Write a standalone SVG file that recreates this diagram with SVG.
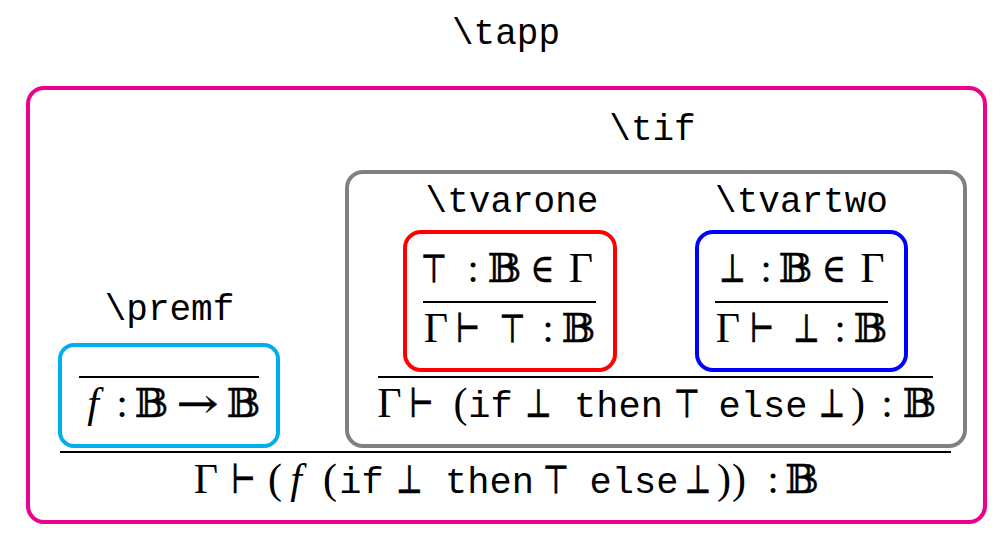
<svg xmlns="http://www.w3.org/2000/svg" width="1006" height="548" viewBox="0 0 1006 548">
<style>
.box{fill:none;stroke-width:4}
.lbl{font-family:"Liberation Mono","DejaVu Sans Mono",monospace;font-size:36px;fill:#000;text-anchor:middle}
.m{font-family:"Liberation Serif","DejaVu Serif","DejaVu Sans",serif;font-size:42px;fill:#000;text-anchor:middle}
.s{font-family:"DejaVu Serif","DejaVu Sans",serif;font-size:40px;fill:#000;stroke:#000;stroke-width:0.5;text-anchor:middle}
.mi{font-family:"Liberation Serif","DejaVu Serif",serif;font-style:italic;font-size:42px;fill:#000;text-anchor:middle}
.tt{font-family:"Liberation Mono","DejaVu Sans Mono",monospace;font-size:37px;fill:#000;text-anchor:middle}
.rule{stroke:#000;stroke-width:2.2}
</style>
<rect width="1006" height="548" fill="#fff"/>

<g id="tapp">
  <rect class="box" x="28" y="88" width="957" height="434" rx="16" stroke="#EC008C" stroke-width="4.5"/>
  <text class="lbl" x="506" y="44">\tapp</text>
  <g class="concl">
    <text class="m" x="206" y="493">Γ</text>
    <text class="s" x="243.5" y="493" textLength="25" lengthAdjust="spacingAndGlyphs">⊢</text>
    <text class="m" x="275" y="493">(</text>
    <text class="mi" x="296" y="493">f</text>
    <text class="m" x="330" y="493">(</text>
    <text class="tt" x="361.5" y="493">if</text>
    <text class="s" x="409.5" y="493" textLength="27" lengthAdjust="spacingAndGlyphs">⊥</text>
    <text class="tt" x="489.5" y="493">then</text>
    <text class="s" x="556" y="493" textLength="27" lengthAdjust="spacingAndGlyphs">⊤</text>
    <text class="tt" x="634" y="493">else</text>
    <text class="s" transform="translate(698,493) scale(0.72,1)" x="0" y="0">⊥</text>
    <text class="m" x="724" y="493">)</text>
    <text class="m" x="739" y="493">)</text>
    <text class="m" x="773" y="493">:</text>
    <text class="s" x="802" y="493">𝔹</text>
  </g>
</g>

<g id="premf">
  <rect class="box" x="60" y="345" width="218" height="101" rx="14" stroke="#00AEEF"/>
  <text class="lbl" x="169.5" y="320">\premf</text>
  <text class="mi" x="93" y="417">f</text>
  <text class="m" x="122" y="417">:</text>
  <text class="s" x="151.5" y="417">𝔹</text>
  <text class="s" x="197.5" y="417" textLength="42" lengthAdjust="spacingAndGlyphs">→</text>
  <text class="s" x="243.5" y="417">𝔹</text>
</g>

<g id="tif">
  <rect class="box" x="347" y="172" width="618" height="274" rx="16" stroke="#808080"/>
  <text class="lbl" x="652.5" y="140">\tif</text>
  <text class="m" x="389.5" y="417">Γ</text>
  <text class="s" x="421.5" y="417" textLength="25" lengthAdjust="spacingAndGlyphs">⊢</text>
  <text class="m" x="460.5" y="417">(</text>
  <text class="tt" x="490.5" y="417">if</text>
  <text class="s" x="538.5" y="417" textLength="27" lengthAdjust="spacingAndGlyphs">⊥</text>
  <text class="tt" x="618.5" y="417">then</text>
  <text class="s" x="687" y="417" textLength="27" lengthAdjust="spacingAndGlyphs">⊤</text>
  <text class="tt" x="763" y="417">else</text>
  <text class="s" transform="translate(832,417) scale(0.72,1)" x="0" y="0">⊥</text>
  <text class="m" x="858" y="417">)</text>
  <text class="m" x="887" y="417">:</text>
  <text class="s" x="919.5" y="417">𝔹</text>
</g>

<g id="tvarone">
  <rect class="box" x="405" y="232" width="210" height="138" rx="16" stroke="#FF0000"/>
  <text class="lbl" x="512" y="212">\tvarone</text>
  <text class="s" x="434" y="282" textLength="27" lengthAdjust="spacingAndGlyphs">⊤</text>
  <text class="m" x="473" y="282">:</text>
  <text class="s" x="504.5" y="282">𝔹</text>
  <text class="s" x="542.5" y="282" textLength="24" lengthAdjust="spacingAndGlyphs">∈</text>
  <text class="m" x="581" y="282">Γ</text>
  <text class="m" x="436" y="342">Γ</text>
  <text class="s" x="468" y="342" textLength="25" lengthAdjust="spacingAndGlyphs">⊢</text>
  <text class="s" x="512.5" y="342" textLength="27" lengthAdjust="spacingAndGlyphs">⊤</text>
  <text class="m" x="548" y="342">:</text>
  <text class="s" x="578.5" y="342">𝔹</text>
</g>

<g id="tvartwo">
  <rect class="box" x="697" y="232" width="209" height="138" rx="16" stroke="#0000FF"/>
  <text class="lbl" x="801.5" y="212">\tvartwo</text>
  <text class="s" x="732.5" y="282" textLength="27" lengthAdjust="spacingAndGlyphs">⊥</text>
  <text class="m" x="766" y="282">:</text>
  <text class="s" x="795.5" y="282">𝔹</text>
  <text class="s" x="834" y="282" textLength="24" lengthAdjust="spacingAndGlyphs">∈</text>
  <text class="m" x="872.5" y="282">Γ</text>
  <text class="m" x="728" y="342">Γ</text>
  <text class="s" x="762" y="342" textLength="25" lengthAdjust="spacingAndGlyphs">⊢</text>
  <text class="s" x="806.5" y="342" textLength="27" lengthAdjust="spacingAndGlyphs">⊥</text>
  <text class="m" x="840" y="342">:</text>
  <text class="s" x="870.5" y="342">𝔹</text>
</g>

<g id="connectors">
  <line class="rule" x1="423" y1="302" x2="596" y2="302"/>
  <line class="rule" x1="715" y1="302" x2="888" y2="302"/>
  <line class="rule" x1="79" y1="377" x2="259" y2="377"/>
  <line class="rule" x1="378" y1="377" x2="933" y2="377"/>
  <line class="rule" x1="60" y1="452" x2="951" y2="452" stroke-width="3"/>
</g>
</svg>
